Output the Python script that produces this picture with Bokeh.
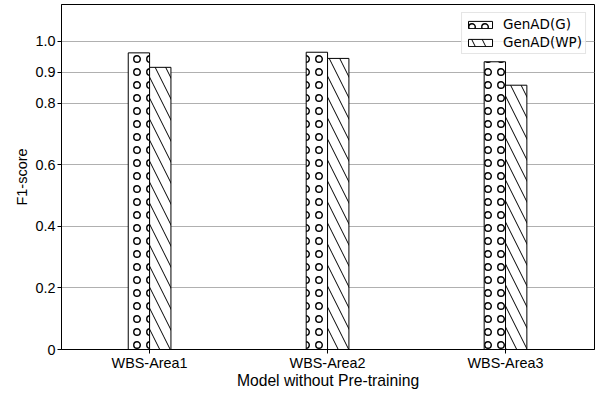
from bokeh.plotting import figure
from bokeh.models import Range1d, FixedTicker, ColumnDataSource, Legend, LegendItem
from bokeh.embed import file_html
from bokeh.resources import INLINE

categories = ["WBS-Area1", "WBS-Area2", "WBS-Area3"]
genad_g = [0.963, 0.965, 0.934]
genad_wp = [0.916, 0.945, 0.858]
y_ticks = [0, 0.2, 0.4, 0.6, 0.8, 0.9, 1.0]
y_tick_labels = ["0", "0.2", "0.4", "0.6", "0.8", "0.9", "1.0"]

xs = list(range(len(categories)))
bar_w = 0.12
src = ColumnDataSource(dict(
    xg=[x - bar_w / 2 for x in xs],
    xw=[x + bar_w / 2 for x in xs],
    g=genad_g,
    wp=genad_wp,
))

p = figure(width=598, height=395, output_backend="svg", toolbar_location=None,
           x_range=Range1d(-0.495, 2.5), y_range=Range1d(0, 1.12),
           min_border_left=61, min_border_right=4, min_border_top=4, min_border_bottom=46)

r1 = p.vbar(x="xg", top="g", width=bar_w, source=src, fill_color="white",
            line_color="black", line_width=1, hatch_pattern="o", hatch_color="black",
            hatch_scale=13, hatch_weight=1.4)
r2 = p.vbar(x="xw", top="wp", width=bar_w, source=src, fill_color="white",
            line_color="black", line_width=1, hatch_pattern="\\", hatch_color="black",
            hatch_scale=21, hatch_weight=1)

font = "Liberation Sans"
p.xaxis.ticker = FixedTicker(ticks=xs)
p.xaxis.major_label_overrides = {x: c for x, c in zip(xs, categories)}
p.yaxis.ticker = FixedTicker(ticks=y_ticks)
p.yaxis.major_label_overrides = {t: l for t, l in zip(y_ticks, y_tick_labels)}

for ax in (p.xaxis, p.yaxis):
    ax.major_label_text_font = font
    ax.major_label_text_font_size = "14.4px"
    ax.major_label_text_color = "black"
    ax.axis_label_text_font = font
    ax.axis_label_text_font_style = "normal"
    ax.axis_label_text_color = "black"
    ax.major_tick_out = 4
    ax.major_tick_in = 0
    ax.minor_tick_line_color = None
    ax.axis_line_color = "black"
    ax.major_tick_line_color = "black"
    ax.major_label_standoff = 2

p.xaxis.major_label_standoff = 1
p.xaxis.axis_label = "Model without Pre-training"
p.yaxis.axis_label = "F1-score"
p.xaxis.axis_label_text_font_size = "15.7px"
p.yaxis.axis_label_text_font_size = "14.5px"
p.xaxis.axis_label_standoff = -2
p.yaxis.axis_label_standoff = 2

p.xgrid.grid_line_color = None
p.ygrid.grid_line_color = "#b0b0b0"
p.ygrid.grid_line_width = 1
p.outline_line_color = "black"
p.outline_line_width = 1
p.outline_line_alpha = 1

legend = Legend(items=[LegendItem(label="GenAD(G)", renderers=[r1]),
                       LegendItem(label="GenAD(WP)", renderers=[r2])],
                location="top_right")
legend.label_text_font = "DejaVu Sans"
legend.label_text_font_size = "13.5px"
legend.label_text_color = "black"
legend.glyph_width = 30
legend.glyph_height = 9
legend.label_height = 14
legend.label_standoff = 8
legend.spacing = 2
legend.padding = 3
legend.margin = 8
legend.border_line_color = "#cccccc"
legend.background_fill_alpha = 0.8
p.add_layout(legend)

open("out.html", "w").write(file_html(p, INLINE))
